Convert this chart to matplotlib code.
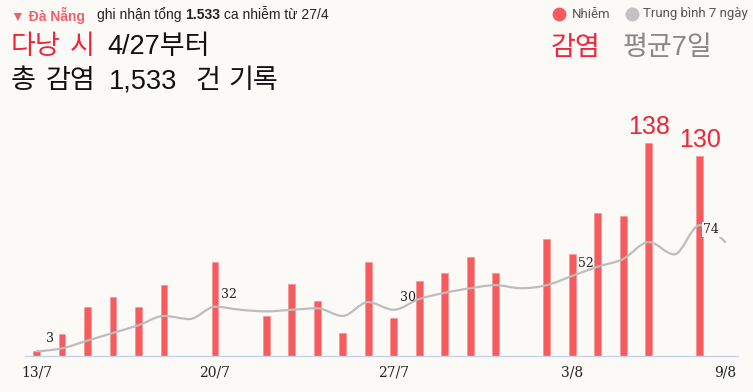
import numpy as np
import matplotlib
matplotlib.use("Agg")
import matplotlib.pyplot as plt
from matplotlib.path import Path
from matplotlib.patches import PathPatch
from matplotlib.lines import Line2D

W, H = 753, 392
BG = '#fbfaf6'
RED_BAR = '#f55b5f'
RED_TXT = '#f0243a'
GRAY_LINE = '#bdbdbd'

# 13/7 -> 9/8
days = ['13/7', '14/7', '15/7', '16/7', '17/7', '18/7', '19/7', '20/7', '21/7', '22/7',
        '23/7', '24/7', '25/7', '26/7', '27/7', '28/7', '29/7', '30/7', '31/7', '1/8',
        '2/8', '3/8', '4/8', '5/8', '6/8', '7/8', '8/8', '9/8']
cases = [3, 14, 32, 38, 32, 46, 0, 61, 0, 26,
         47, 36, 15, 61, 25, 49, 54, 64, 54, 0,
         76, 66, 93, 91, 138, 0, 130, 0]
avg7 = [3, 5, 10, 15, 20, 26, 24, 32, 30, 29,
        30, 31, 26, 35, 30, 37, 41, 44, 46, 44,
        46, 52, 58, 63, 74, 66, 85, 74]
tick_days = ['13/7', '20/7', '27/7', '3/8', '9/8']
avg_labels = ['13/7', '20/7', '27/7', '3/8']
big_labels = ['6/8', '8/8']

fig = plt.figure(figsize=(W / 100, H / 100), dpi=100, facecolor=BG)


def px(x, y):
    return x / W, 1 - y / H


def monotone_path(xs, ys):
    # monotone cubic (like d3 curveMonotoneX) as bezier segments
    xs = np.asarray(xs, float)
    ys = np.asarray(ys, float)
    n = len(xs)
    h = np.diff(xs)
    s = np.diff(ys) / h
    t = np.zeros(n)
    for i in range(1, n - 1):
        p = (s[i - 1] * h[i] + s[i] * h[i - 1]) / (h[i - 1] + h[i])
        t[i] = (np.sign(s[i - 1]) + np.sign(s[i])) * min(abs(s[i - 1]), abs(s[i]), 0.5 * abs(p))
    t[0] = (3 * s[0] - t[1]) / 2
    t[-1] = (3 * s[-1] - t[-2]) / 2
    verts = [(xs[0], ys[0])]
    codes = [Path.MOVETO]
    for i in range(n - 1):
        dx = h[i] / 3
        verts += [(xs[i] + dx, ys[i] + dx * t[i]),
                  (xs[i + 1] - dx, ys[i + 1] - dx * t[i + 1]),
                  (xs[i + 1], ys[i + 1])]
        codes += [Path.CURVE4] * 3
    return Path(verts, codes)


ax = fig.add_axes([25 / W, 36 / H, (738 - 25) / W, (356 - 125) / H])
ax.set_facecolor(BG)
x = np.arange(len(days))
ax.bar(x, cases, width=0.27, color=RED_BAR, edgecolor='#f88c90', linewidth=0.4, zorder=2)
ax.add_patch(PathPatch(monotone_path(x, avg7), fill=False, edgecolor=GRAY_LINE,
                       linewidth=1.6, zorder=3, capstyle='round'))
ax.set_xlim(-0.45, 27.5)
ax.set_ylim(0, 150)

for sp in ['top', 'left', 'right']:
    ax.spines[sp].set_visible(False)
ax.spines['bottom'].set_color('#c8d3ea')
ax.spines['bottom'].set_linewidth(1)
ax.set_yticks([])
ax.set_xticks([days.index(d) for d in tick_days])
ax.set_xticklabels(tick_days, fontsize=10, family='DejaVu Serif', color='#222')
ax.tick_params(axis='x', length=0, pad=7)

for d in avg_labels:
    i = days.index(d)
    ax.annotate(str(avg7[i]), (i, avg7[i]), xytext=(10, 9), textcoords='offset points',
                ha='center', va='center', fontsize=9, family='DejaVu Serif', color='#222',
                zorder=5)
i = len(days) - 1
ax.annotate(str(avg7[i]), (i, avg7[i]), xytext=(-10, 9), textcoords='offset points',
            ha='center', va='center', fontsize=9, family='DejaVu Serif', color='#222',
            zorder=5, bbox=dict(boxstyle='square,pad=0.1', fc=BG, ec='none'))

for d in big_labels:
    i = days.index(d)
    ax.annotate(str(cases[i]), (i, cases[i]), xytext=(0, 3), textcoords='offset points',
                ha='center', va='bottom', fontsize=18, family='Liberation Sans',
                color=RED_TXT, annotation_clip=False)

# header
renderer = fig.canvas.get_renderer()


def chain(parts, x0, y, **kw):
    xpos = x0
    for s, opts in parts:
        o = dict(kw)
        o.update(opts)
        t = fig.text(xpos / W, 1 - y / H, s, **o)
        xpos = t.get_window_extent(renderer).x1
    return xpos


base = dict(ha='left', va='center')
chain([('▼ Đà Nẵng', dict(color='#f0626a', fontweight='bold'))],
      11, 15, fontsize=10, family=['Liberation Sans', 'DejaVu Sans'], **base)
chain([('ghi nhận tổng ', {}), ('1.533', dict(fontweight='bold')),
       (' ca nhiễm từ 27/4', {})], 97, 15, fontsize=10, color='#222',
      family='Liberation Sans', **base)

fig.add_artist(Line2D([559 / W], [1 - 14 / H], marker='o', markersize=9, color=RED_BAR,
                      transform=fig.transFigure))
fig.text(*px(572, 14), 'Nhiễm', fontsize=9.5, color='#555', family='Roboto', **base)
fig.add_artist(Line2D([632 / W], [1 - 14 / H], marker='o', markersize=9, color='#c2c2c2',
                      transform=fig.transFigure))
fig.text(*px(643, 14), 'Trung bình 7 ngày', fontsize=9.5, color='#555', family='Roboto', **base)

# Korean headline, word by word
kr = dict(fontsize=19.5, family=['Liberation Sans', 'Noto Sans CJK KR'], va='center', ha='left')
line1 = [('다낭', 11, RED_TXT), ('시', 70, RED_TXT), ('4/27부터', 107, '#111')]
line2 = [('총', 11, '#111'), ('감염', 46, '#111'), ('1,533', 109, '#111'),
         ('건', 195, '#111'), ('기록', 228, '#111')]
right = [('감염', 551, RED_TXT), ('평균7일', 623, '#888')]
for s, xx, c in line1:
    fig.text(*px(xx, 47), s, color=c, **kr)
for s, xx, c in line2:
    fig.text(*px(xx, 81), s, color=c, **kr)
for s, xx, c in right:
    fig.text(*px(xx, 48), s, color=c, **kr)

fig.savefig('out.png', dpi=100, facecolor=BG)
